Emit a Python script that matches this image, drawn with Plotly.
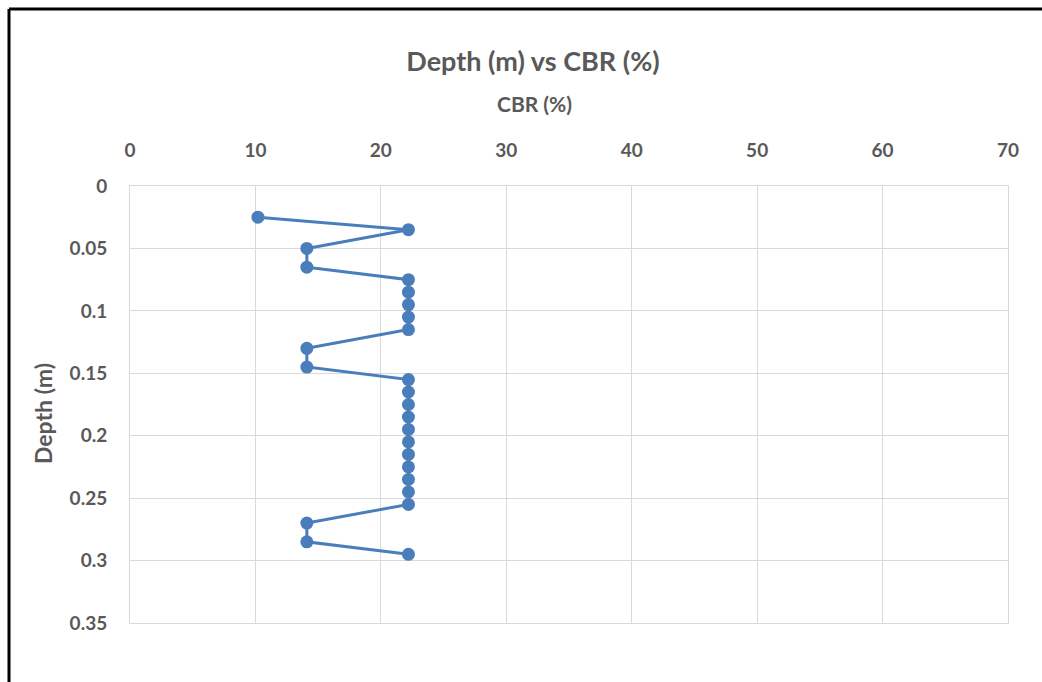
import plotly.graph_objects as go

# CBR test results by depth
depth_m = [0.025, 0.035, 0.05, 0.065, 0.075, 0.085, 0.095, 0.105, 0.115, 0.13,
           0.145, 0.155, 0.165, 0.175, 0.185, 0.195, 0.205, 0.215, 0.225, 0.235,
           0.245, 0.255, 0.27, 0.285, 0.295]
cbr_pct = [10.2, 22.2, 14.1, 14.1, 22.2, 22.2, 22.2, 22.2, 22.2, 14.1,
           14.1, 22.2, 22.2, 22.2, 22.2, 22.2, 22.2, 22.2, 22.2, 22.2,
           22.2, 22.2, 14.1, 14.1, 22.2]

x_ticks = [0, 10, 20, 30, 40, 50, 60, 70]
y_ticks = [0, 0.05, 0.1, 0.15, 0.2, 0.25, 0.3, 0.35]
y_tick_text = ["0", "0.05", "0.1", "0.15", "0.2", "0.25", "0.3", "0.35"]

FONT = "Lato"
GREY = "#595959"
GRID = "#d9d9d9"
BLUE = "#4A7EBB"
W, H = 1042, 682
L, R, T, B = 130, 34, 186, 59
PW, PH = W - L - R, H - T - B

fig = go.Figure(
    go.Scatter(
        x=cbr_pct, y=depth_m, mode="lines+markers",
        line=dict(color=BLUE, width=3),
        marker=dict(color=BLUE, size=13),
        showlegend=False,
    )
)

fig.update_layout(
    width=W, height=H,
    margin=dict(l=L, r=R, t=T, b=B),
    paper_bgcolor="white", plot_bgcolor="white",
    font=dict(family=FONT, color=GREY),
    title=dict(
        text="<b>Depth (m) vs CBR (%)</b>",
        x=533 / W, xref="container", xanchor="center",
        y=1 - 62 / H, yref="container", yanchor="middle",
        font=dict(size=27, family=FONT, color=GREY),
    ),
    xaxis=dict(
        side="top", range=[0, 70], tickvals=x_ticks,
        showgrid=True, gridcolor=GRID, gridwidth=1,
        showline=True, linecolor=GRID, linewidth=1, mirror=True,
        zeroline=False, ticks="",
        tickfont=dict(size=19, family=FONT, color=GREY, weight="bold"),
        ticklabelstandoff=20,
    ),
    yaxis=dict(
        range=[0.35, 0], tickvals=y_ticks, ticktext=y_tick_text,
        showgrid=True, gridcolor=GRID, gridwidth=1,
        showline=True, linecolor=GRID, linewidth=1, mirror=True,
        zeroline=False, ticks="",
        tickfont=dict(size=19, family=FONT, color=GREY, weight="bold"),
        ticklabelstandoff=18,
    ),
)

# axis titles
fig.add_annotation(text="<b>CBR (%)</b>", xref="paper", yref="paper",
                   x=(534 - L) / PW, y=(H - B - 103) / PH,
                   xanchor="center", yanchor="middle", showarrow=False,
                   font=dict(size=21, family=FONT, color=GREY))
fig.add_annotation(text="<b>Depth (m)</b>", xref="paper", yref="paper",
                   x=(43 - L) / PW, y=(H - B - 414) / PH, textangle=-90,
                   xanchor="center", yanchor="middle", showarrow=False,
                   font=dict(size=23, family=FONT, color=GREY))

# outer frame around the chart
fig.add_shape(type="line", xref="paper", yref="paper",
              x0=(9 - L) / PW, x1=(W - L) / PW,
              y0=(H - B - 9) / PH, y1=(H - B - 9) / PH,
              line=dict(color="black", width=3))
fig.add_shape(type="line", xref="paper", yref="paper",
              x0=(9 - L) / PW, x1=(9 - L) / PW,
              y0=(H - B - 9) / PH, y1=(H - B - H) / PH,
              line=dict(color="black", width=3))

fig.write_html("out.html")
